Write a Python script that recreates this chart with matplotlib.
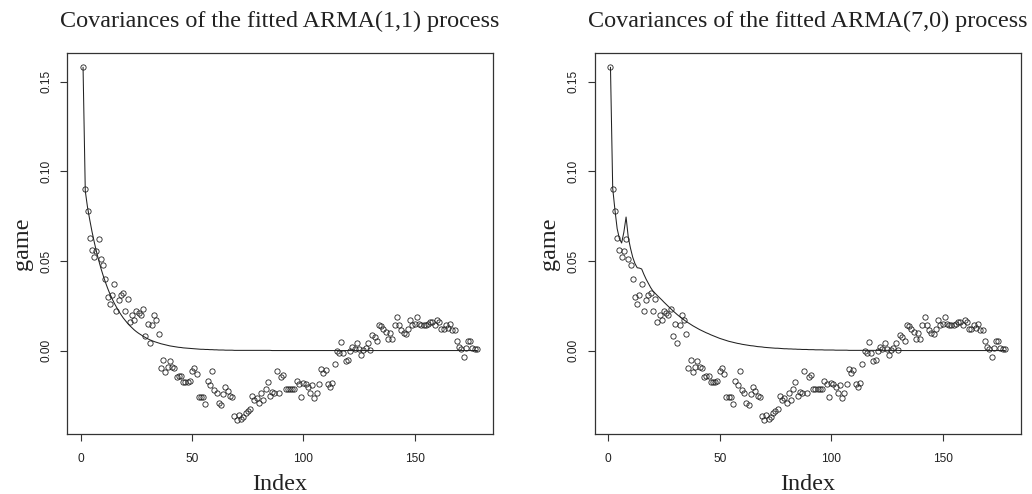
import matplotlib
matplotlib.use("Agg")
import matplotlib.pyplot as plt

# ---- data ----
game = [
    0.158, 0.090, 0.078, 0.063, 0.056, 0.052, 0.0555, 0.062, 0.051, 0.048,
    0.040, 0.030, 0.026, 0.031, 0.037, 0.022, 0.028, 0.031, 0.032, 0.022,
    0.029, 0.016, 0.020, 0.017, 0.022, 0.021, 0.020, 0.023, 0.008, 0.015,
    0.004, 0.014, 0.020, 0.017, 0.009, -0.0097, -0.005, -0.012, -0.009, -0.006,
    -0.009, -0.010, -0.0145, -0.014, -0.014, -0.0175, -0.0175, -0.0175, -0.017, -0.0115,
    -0.0097, -0.013, -0.026, -0.026, -0.026, -0.030, -0.017, -0.0195, -0.0115, -0.022,
    -0.0235, -0.029, -0.0305, -0.024, -0.0205, -0.0223, -0.0253, -0.026, -0.0365, -0.0387,
    -0.036, -0.038, -0.037, -0.035, -0.034, -0.0324, -0.0253, -0.0275, -0.0266, -0.029,
    -0.0235, -0.0275, -0.0216, -0.0173, -0.0253, -0.0231, -0.0238, -0.0112, -0.0235, -0.0145,
    -0.0138, -0.0216, -0.0216, -0.0216, -0.0216, -0.0213, -0.017, -0.0186, -0.0257, -0.0182,
    -0.0186, -0.0201, -0.0238, -0.0192, -0.0266, -0.0235, -0.0186, -0.0104, -0.0123, -0.0107,
    -0.0186, -0.0201, -0.0182, -0.0074, -0.0003, -0.0015, 0.005, -0.0011, -0.0056, -0.0052,
    0.000, 0.0019, 0.0008, 0.0041, 0.0011, -0.0026, 0.0004, 0.0015, 0.0041, 0.0004,
    0.0086, 0.0075, 0.0056, 0.0142, 0.0138, 0.012, 0.0104, 0.0067, 0.0097, 0.0067,
    0.0142, 0.0187, 0.0145, 0.0116, 0.0097, 0.0093, 0.012, 0.0168, 0.0145, 0.0149,
    0.0187, 0.0149, 0.0142, 0.0145, 0.0145, 0.0149, 0.016, 0.016, 0.0142, 0.0172,
    0.0157, 0.012, 0.012, 0.0142, 0.0127, 0.0149, 0.0116, 0.0116, 0.0052, 0.0019,
    0.0011, -0.0034, 0.0015, 0.0052, 0.0056, 0.0015, 0.0011, 0.0008,
]

arma11 = [
    0.158, 0.089, 0.080, 0.0730, 0.0665, 0.0607, 0.0553, 0.0505, 0.0460, 0.0420,
    0.0383, 0.0349, 0.0318, 0.0290, 0.0265, 0.0242, 0.0220, 0.0201, 0.0183, 0.0167,
    0.0152, 0.0139, 0.0127, 0.0115, 0.0105, 0.0096, 0.0088, 0.0080, 0.0073, 0.0066,
    0.0060, 0.0055, 0.0050, 0.0046, 0.0042, 0.0038, 0.0035, 0.0032, 0.0029, 0.0026,
    0.0024, 0.0022, 0.0020, 0.0018, 0.0017, 0.0015, 0.0014, 0.0013, 0.0012, 0.0011,
    0.0010, 0.0009, 0.0008, 0.0007, 0.0007, 0.0006, 0.0006, 0.0005, 0.0005, 0.0004,
    0.0004, 0.0003, 0.0003, 0.0003, 0.0002, 0.0002, 0.0002, 0.0002, 0.0001, 0.0001,
    0.0001, 0.0001, 0.0001, 0.0001, 0.0001, 0.0001, 0.0001, 0.0001, 0.0001, 0.0001,
    0.0001, 0.0001, 0.0001, 0.0001, 0.0001,
] + [0.0] * 93

ar7 = [
    0.158, 0.0905, 0.0785, 0.068, 0.0625, 0.0600, 0.066, 0.0745, 0.063, 0.057,
    0.052, 0.0485, 0.0462, 0.0460, 0.0455, 0.0425, 0.0398, 0.0375, 0.0352, 0.0333,
    0.0320, 0.0307, 0.0295, 0.0283, 0.0270, 0.0258, 0.0246, 0.0234, 0.0222, 0.0211,
    0.0200, 0.0190, 0.0180, 0.0171, 0.0162, 0.0154, 0.0146, 0.0138, 0.0131, 0.0124,
    0.0117, 0.0111, 0.0105, 0.0099, 0.0094, 0.0088, 0.0083, 0.0078, 0.0073, 0.0068,
    0.0064, 0.0060, 0.0056, 0.0052, 0.0049, 0.0046, 0.0043, 0.0040, 0.0038, 0.0035,
    0.0033, 0.0031, 0.0029, 0.0027, 0.0026, 0.0024, 0.0022, 0.0021, 0.0020, 0.0018,
    0.0017, 0.0016, 0.0015, 0.0014, 0.0013, 0.0013, 0.0012, 0.0011, 0.0010, 0.0010,
    0.0009, 0.0009, 0.0008, 0.0008, 0.0007, 0.0007, 0.0006, 0.0006, 0.0006, 0.0005,
    0.0005, 0.0005, 0.0004, 0.0004, 0.0004, 0.0004, 0.0003, 0.0003, 0.0003, 0.0003,
    0.0003, 0.0002, 0.0002, 0.0002, 0.0002, 0.0002, 0.0002, 0.0001, 0.0001, 0.0001,
] + [0.0001] * 20 + [0.0] * 48

index = list(range(1, len(game) + 1))

titles = ["Covariances of the fitted ARMA(1,1) process",
          "Covariances of the fitted ARMA(7,0) process"]
xticks = [0, 50, 100, 150]
yticks = [0.00, 0.05, 0.10, 0.15]
ytick_labels = ["0.00", "0.05", "0.10", "0.15"]

# ---- figure ----
W, H = 1032, 494
fig = plt.figure(figsize=(W / 100, H / 100), dpi=100)
ink = "#222222"
serif = ["Liberation Serif", "DejaVu Serif"]
sans = ["Liberation Sans", "DejaVu Sans"]

boxes = [(67.3, 53.3, 492.7, 434.0), (594.7, 53.3, 1020.7, 434.0)]
models = [arma11, ar7]

for (x0, y0, x1, y1), title, model in zip(boxes, titles, models):
    ax = fig.add_axes([x0 / W, 1 - y1 / H, (x1 - x0) / W, (y1 - y0) / H])
    ax.plot(index, game, linestyle="none", marker="o", markersize=3.8,
            markerfacecolor="none", markeredgecolor=ink, markeredgewidth=0.6)
    ax.plot(index, model, color=ink, linewidth=0.75)
    n = len(game)
    ax.set_xlim(1 - 0.04 * (n - 1), n + 0.04 * (n - 1))
    lo, hi = min(game), max(game)
    ax.set_ylim(lo - 0.04 * (hi - lo), hi + 0.04 * (hi - lo))
    for s in ax.spines.values():
        s.set_color("#333333")
        s.set_linewidth(0.9)
    ax.set_xticks(xticks)
    ax.set_yticks(yticks)
    ax.set_yticklabels(ytick_labels)
    ax.tick_params(direction="out", length=5, width=0.8, color="#333333",
                   labelsize=8.6, labelcolor=ink)
    ax.tick_params(axis="x", pad=9)
    ax.tick_params(axis="y", pad=6)
    for lab in ax.get_xticklabels() + ax.get_yticklabels():
        lab.set_family(sans)
    for lab in ax.get_yticklabels():
        lab.set_rotation(90)
        lab.set_va("center")
    ax.set_xlabel("Index", family=serif, fontsize=17.4, color=ink, va="center")
    ax.xaxis.set_label_coords(0.5, (y1 - 484) / (y1 - y0))
    ax.set_ylabel("game", family=serif, fontsize=17.4, color=ink, va="center")
    ax.yaxis.set_label_coords(-45.0 / (x1 - x0), 0.5)
    ax.text(0.5, (y1 - 21) / (y1 - y0), title, transform=ax.transAxes,
            ha="center", va="center", family=serif, fontsize=17.4, color=ink)

fig.savefig("out.png", dpi=100)
